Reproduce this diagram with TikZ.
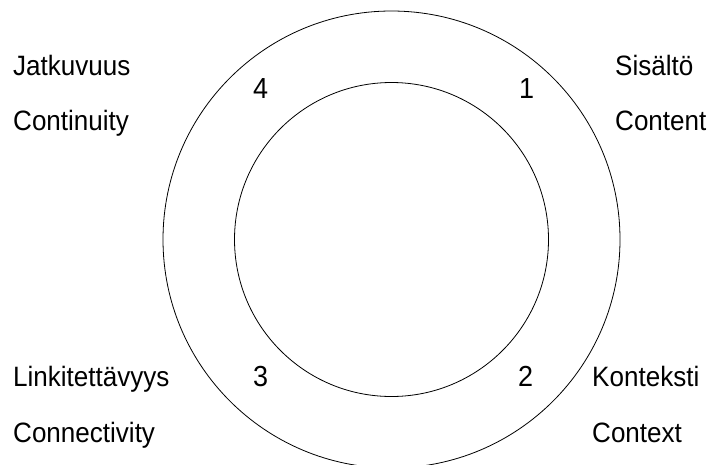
\documentclass[tikz,border=0pt]{standalone}
\usepackage{fontspec}
\setmainfont{Liberation Sans}[FakeStretch=0.93]
\usetikzlibrary{positioning}
\tikzset{
    % text styles
    termtext/.style={
        anchor=base west,
        inner sep=0pt,
        font=\fontsize{28}{34}\selectfont
    },
    numtext/.style={
        anchor=base west,
        inner sep=0pt,
        font=\fontsize{29}{34}\selectfont
    },
    ring/.style={
        draw=black,
        line width=0.8pt
    }
}
\begin{document}
\begin{tikzpicture}[x=1pt,y=-1pt]
    \useasboundingbox (0,0) rectangle (708,464);

    % Rings
    \coordinate (centre) at (391.5,239.5);
    \draw[ring] (centre) circle (228.5);
    \draw[ring] (centre) circle (157);

    % Numbers
    \node[numtext] (n4) at (253,98) {4};
    \node[numtext] (n1) at (519,98) {1};
    \node[numtext] (n3) at (253,386) {3};
    \node[numtext] (n2) at (518,386) {2};

    % Terms
    \node[termtext] (jatk) at (13,75) {Jatkuvuus};
    \node[termtext] (cont) at (13,130) {Continuity};
    \node[termtext] (sisa) at (615,75) {Sisältö};
    \node[termtext] (conte) at (615,130) {Content};
    \node[termtext] (link) at (13,386) {Linkitettävyys};
    \node[termtext] (conn) at (13,442) {Connectivity};
    \node[termtext] (kont) at (592,386) {Konteksti};
    \node[termtext] (ctx) at (592,442) {Context};
\end{tikzpicture}
\end{document}
